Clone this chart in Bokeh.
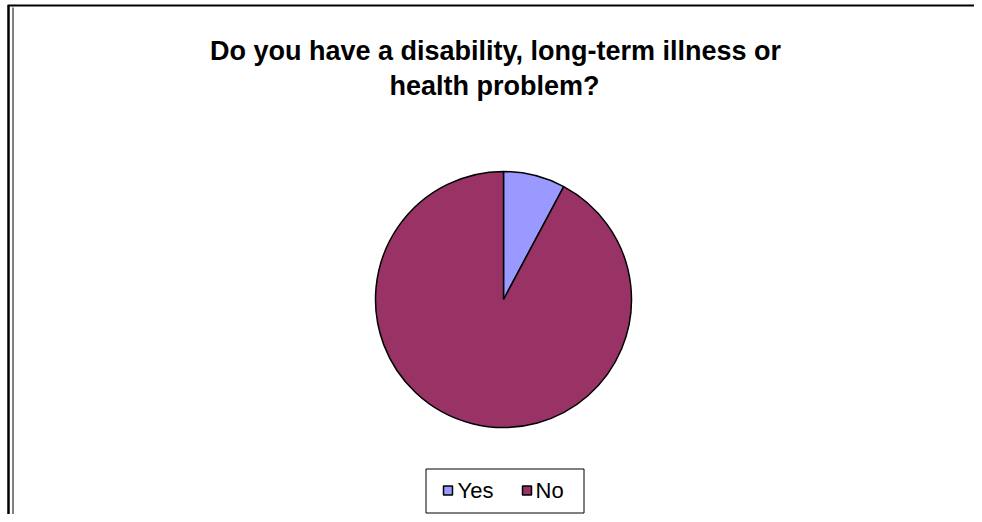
import math
from bokeh.plotting import figure
from bokeh.models import Range1d, ColumnDataSource
from bokeh.core.properties import value
from bokeh.embed import file_html
from bokeh.resources import INLINE

# ---- data ----
categories = ["Yes", "No"]
shares = [7.8, 92.2]
colors = ["#9999FF", "#993366"]
title_lines = ["Do you have a disability, long-term illness or", "health problem?"]

W, H = 974, 514


def Y(img_y):
    return H - img_y


p = figure(width=W, height=H, output_backend="svg", toolbar_location=None,
           x_range=Range1d(0, W), y_range=Range1d(0, H),
           min_border=0, outline_line_color=None)
p.axis.visible = False
p.grid.visible = False
p.background_fill_color = "white"
p.border_fill_color = "white"

# frame lines (chart area border)
p.segment(x0=[7, 8, 12.5], y0=[Y(5), Y(5), Y(7)], x1=[W, 8, 12.5], y1=[Y(5), Y(H), Y(H)],
          line_color="black", line_width=[2, 2.5, 1])

# pie
total = sum(shares)
cx, cy, r = 503, Y(299), 128
starts, ends = [], []
acc = 0.0
for s in shares:
    starts.append(math.pi / 2 - 2 * math.pi * acc / total)
    acc += s
    ends.append(math.pi / 2 - 2 * math.pi * acc / total)
src = ColumnDataSource(dict(start=starts, end=ends, color=colors, cat=categories))
p.wedge(x=cx, y=cy, radius=r, start_angle="start", end_angle="end", direction="clock",
        fill_color="color", line_color="black", line_width=1.5, source=src)

# title
p.text(x=[495, 494], y=[Y(50), Y(85)], text=title_lines, text_font=value("Liberation Sans"),
       text_font_style="bold", text_font_size="27px", text_align="center",
       text_baseline="middle", text_color="black")

# legend
p.quad(left=[425.5], right=[583.5], top=[Y(468.5)], bottom=[Y(512.5)], fill_color="white",
       line_color="black", line_width=1)
sq_x = [447.5, 526.5]
txt_x = [457, 535]
p.rect(x=sq_x, y=[Y(490)] * 2, width=9, height=9, fill_color=colors, line_color="black", line_width=1.5)
p.text(x=txt_x, y=[Y(490)] * 2, text=categories, text_font=value("Liberation Sans"),
       text_font_size="22px", text_align="left", text_baseline="middle", text_color="black")

open("out.html", "w").write(file_html(p, INLINE))
